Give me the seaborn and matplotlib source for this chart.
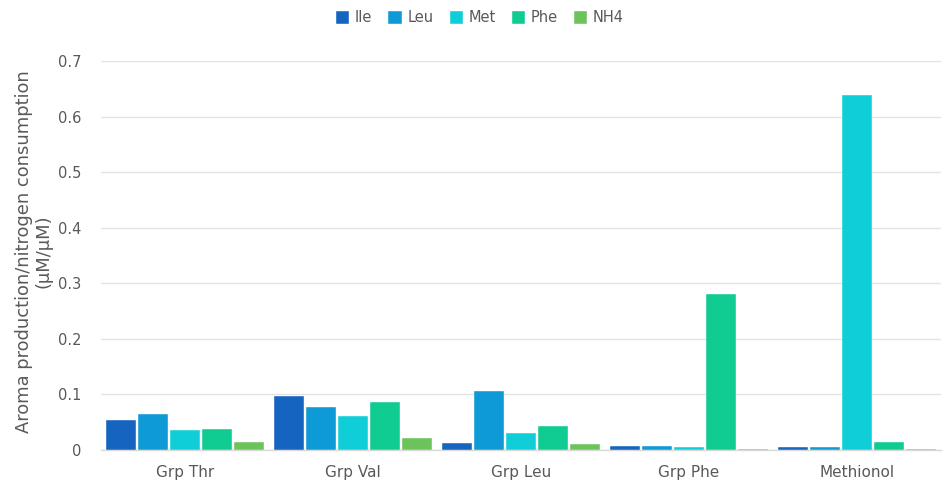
import matplotlib
matplotlib.use("Agg")
import matplotlib.pyplot as plt
import seaborn as sns
import pandas as pd

groups = ["Grp Thr", "Grp Val", "Grp Leu", "Grp Phe", "Methionol"]
series = ["Ile", "Leu", "Met", "Phe", "NH4"]
ile = [0.054, 0.097, 0.012, 0.008, 0.005]
leu = [0.064, 0.078, 0.106, 0.007, 0.006]
met = [0.036, 0.061, 0.030, 0.006, 0.639]
phe = [0.037, 0.086, 0.043, 0.281, 0.015]
nh4 = [0.014, 0.022, 0.011, 0.002, 0.001]
colors = ["#1565c0", "#0e9ad7", "#10ced8", "#10cc93", "#6cc35a"]

rows = []
for name, vals in zip(series, [ile, leu, met, phe, nh4]):
    for g, v in zip(groups, vals):
        rows.append({"group": g, "series": name, "value": v})
df = pd.DataFrame(rows)

sns.set_style("white")
plt.rcParams["font.family"] = ["DejaVu Sans"]

fig = plt.figure(figsize=(9.44, 4.86), dpi=100)
ax = fig.add_axes([101 / 944, 36 / 486, 840 / 944, 389 / 486])

sns.barplot(data=df, x="group", y="value", hue="series", order=groups,
            hue_order=series, palette=colors, saturation=1, width=0.95,
            gap=0.07, edgecolor="white", linewidth=0.3, ax=ax, legend=True,
            zorder=3)

ax.set_ylim(0, 0.7)
ax.set_xlim(-0.5, 4.5)
ticks = [0, 0.1, 0.2, 0.3, 0.4, 0.5, 0.6, 0.7]
ax.set_yticks(ticks)
ax.set_yticklabels(["0"] + [f"{t:.1f}" for t in ticks[1:]])
ax.yaxis.grid(True, color="#e3e3e3", linewidth=1.0, zorder=0)
ax.set_axisbelow(True)
for s in ["top", "right", "left"]:
    ax.spines[s].set_visible(False)
ax.spines["bottom"].set_color("#d9d9d9")
ax.spines["bottom"].set_linewidth(1.0)
ax.tick_params(axis="both", length=0, colors="#595959", labelsize=10.5)
ax.tick_params(axis="x", pad=11, labelsize=11)
ax.tick_params(axis="y", pad=14)
ax.set_xlabel("")
ax.set_ylabel("Aroma production/nitrogen consumption\n(µM/µM)",
              fontsize=12.9, color="#595959", linespacing=1.12)
ax.yaxis.set_label_coords((53 - 101) / 840, 0.51)

handles, labels = ax.get_legend_handles_labels()
ax.get_legend().remove()
fig.legend(handles, labels, loc="center", bbox_to_anchor=(480 / 944, 1 - 18 / 486),
           ncol=5, frameon=False, fontsize=10.5, handlelength=0.9, handleheight=0.9,
           handletextpad=0.4, columnspacing=1.1, labelcolor="#595959")

fig.savefig("out.png", dpi=100)
